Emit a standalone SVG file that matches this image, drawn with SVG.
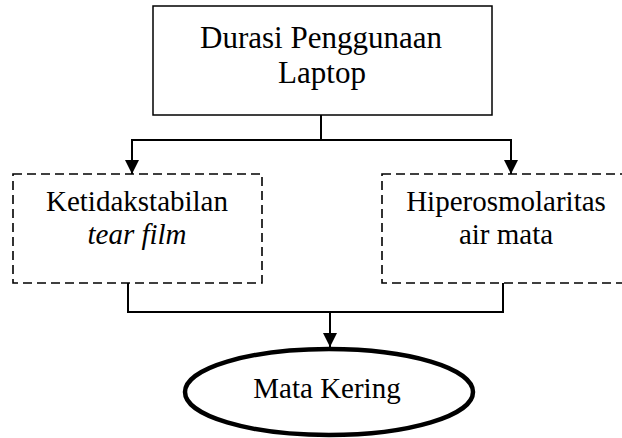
<svg xmlns="http://www.w3.org/2000/svg" width="622" height="438" viewBox="0 0 622 438">
<defs>
<style>
text{font-family:"Liberation Serif","Times New Roman",serif;font-size:29px;fill:#000;text-anchor:middle}
.big{font-size:31px}
.solid{fill:none;stroke:#000;stroke-width:1.5}
.dash{fill:none;stroke:#000;stroke-width:1.6;stroke-dasharray:9,5}
.conn{fill:none;stroke:#000;stroke-width:2}
</style>
<marker id="arr" viewBox="0 0 14 14" refX="14" refY="7" markerWidth="14" markerHeight="14" markerUnits="userSpaceOnUse" orient="auto">
<path d="M0,0 L14,7 L0,14 Z" fill="#000"/>
</marker>
</defs>
<rect width="622" height="438" fill="#fff"/>
<g id="n-durasi">
<rect class="solid" x="153" y="6" width="339" height="109"/>
<text class="big" x="321" y="48">Durasi Penggunaan</text>
<text class="big" x="322" y="83">Laptop</text>
</g>
<g id="n-ketidakstabilan">
<rect class="dash" x="13" y="174" width="249" height="109"/>
<text x="137" y="211">Ketidakstabilan</text>
<text x="137" y="244" font-style="italic">tear film</text>
</g>
<g id="n-hiperosmolaritas">
<rect class="dash" x="382" y="174" width="249" height="109"/>
<text x="506" y="211">Hiperosmolaritas</text>
<text x="506" y="244">air mata</text>
</g>
<g id="n-matakering">
<ellipse cx="329" cy="392" rx="144" ry="43" fill="#fff" stroke="#000" stroke-width="4.5"/>
<text x="327" y="398">Mata Kering</text>
</g>
<g id="connectors">
<line class="conn" x1="321" y1="115" x2="321" y2="140"/>
<line class="conn" x1="131" y1="140" x2="512" y2="140"/>
<line class="conn" x1="132" y1="140" x2="132" y2="174" marker-end="url(#arr)"/>
<line class="conn" x1="511" y1="140" x2="511" y2="174" marker-end="url(#arr)"/>
<polyline class="conn" points="128,283 128,312 503,312 503,283"/>
<line class="conn" x1="330" y1="313" x2="330" y2="347" marker-end="url(#arr)"/>
</g>
</svg>
